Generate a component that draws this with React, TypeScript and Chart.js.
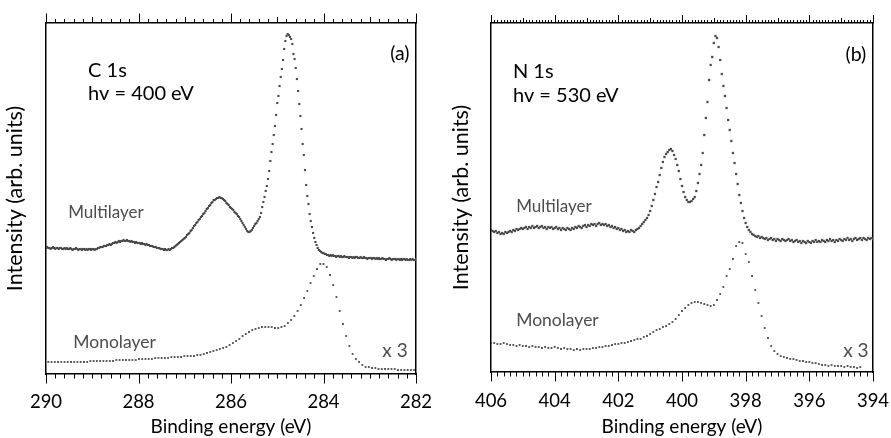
import { useEffect, useRef } from "react";
import { Chart, registerables } from "chart.js";

Chart.register(...registerables);

const FONT = "Lato, 'DejaVu Sans', sans-serif";

// ---- C 1s spectra (panel a) ----
const c1sMultilayerStart = 290;
const c1sMultilayerStep = 0.025;
const c1sMultilayer = [
  126, 127, 126, 126, 125, 126, 127, 126, 125, 126,
  126, 125, 126, 126, 125, 125, 126, 125, 126, 125,
  125, 126, 125, 124, 125, 125, 126, 125, 124, 125,
  125, 124, 125, 125, 124, 125, 124, 125, 125, 124,
  125,
  125, 124, 125, 125, 126, 126, 127, 127, 127, 128,
  128, 128, 129, 129, 130, 129, 130, 131, 131, 132,
  131, 132, 133, 132, 133, 133, 134, 133, 133, 134,
  133, 133, 132, 133, 132, 132, 131, 132, 131, 131,
  131, 130, 131, 130, 130, 129, 130, 129, 129, 128,
  128, 128, 127, 127, 127, 126, 126, 126, 125, 125,
  125, 124, 125, 124, 124, 125, 124, 125, 126, 126,
  127, 128, 129, 130, 131, 132, 133, 134,
  135, 136, 137, 139, 140, 141, 143, 144, 146, 148,
  149, 151, 152, 154, 155, 157, 158, 160, 161, 163,
  165, 166, 168, 169, 171, 172, 174, 174, 175, 176,
  176, 177, 176, 176, 175, 174, 173, 171, 170, 169,
  167, 166, 165, 164, 162, 161, 160, 158, 157, 155,
  153, 151, 149, 147, 145, 143, 142, 142, 143, 144,
  146, 148, 150, 151, 153, 155,
  157, 161, 167, 172, 177, 183, 188, 195, 203, 213,
  222, 230, 239, 248, 259, 271, 278, 288, 297, 305,
  314, 325, 333, 338, 340, 339, 337, 335, 330, 320,
  315, 306, 295, 283, 270, 258, 245, 230, 219, 204,
  189, 178, 170, 160, 153, 147, 141, 136, 132, 129,
  126, 124, 123, 122, 121, 121,
  120, 120, 119, 119, 118, 119, 118, 119, 118, 118,
  117, 118, 118, 117, 118, 117, 117, 118, 117, 117,
  117, 116, 117, 117, 116, 117, 116, 117, 117, 116,
  116, 117, 116, 116, 117, 116, 116, 115, 116, 116,
  116, 115, 116, 116, 115, 116, 115, 116, 115, 115,
  116, 115, 115, 114, 115, 115, 116, 115, 114, 115,
  115, 115, 114, 115, 115, 114, 115, 114, 115, 115,
  114, 115, 114, 114, 115, 114, 115, 114, 114, 115,
];

const c1sMonolayerStart = 289.95;
const c1sMonolayerStep = 0.07;
const c1sMonolayer = [
  12, 12, 12, 12, 12, 12, 12, 12, 12, 12, 12, 12, 12, 13, 13, 13,
  13, 13, 13, 13, 13, 14, 14, 14, 14, 14, 14, 14, 15, 15,
  15, 15, 15, 16, 16, 16, 16, 16, 17, 17,
  17, 17, 18, 18, 18, 18, 19, 19,
  20, 21, 22, 23, 24,
  25, 26, 27, 29, 31,
  33, 35, 38, 40,
  42, 44, 45,
  46, 47, 47, 47,
  47, 46, 46, 47,
  48, 51, 54, 58, 63, 69, 76, 83, 91, 98, 105, 110, 110, 107,
  99, 89, 77, 63, 50, 38, 28, 20, 15, 12, 9, 7, 7,
  6, 6, 5, 5, 5, 5, 5, 5, 4, 4, 4, 4, 4, 4,
];

// ---- N 1s spectra (panel b) ----
const n1sMultilayerStart = 406;
const n1sMultilayerStep = 0.05;
const n1sMultilayer = [
  142, 141, 140, 141, 139, 140, 138, 139, 138, 140,
  139, 140, 141, 140, 142, 141, 143, 142, 143, 144,
  143, 144, 145, 143, 145, 144, 146, 144, 145, 146,
  144, 145, 146, 144, 145, 143, 145, 144, 145, 143,
  144, 145, 143, 144, 142, 144, 143, 142, 144, 143,
  142, 144, 143, 145, 144, 146, 145, 144, 146, 147,
  145, 147, 146, 148, 147, 148, 146, 148, 149, 147,
  148, 147, 148, 146, 147, 145, 146, 144, 145, 143,
  144, 142, 143, 141, 142, 140, 141, 140, 142, 141,
  140, 142, 143, 144, 146, 148, 150, 152, 154, 157,
  161, 166, 172, 178, 185, 190, 197, 204, 210, 215,
  218, 220, 222, 223, 221, 217, 213, 207, 201, 193,
  186, 180, 175, 172, 170, 170, 171, 173, 175, 181,
  189, 198, 207, 219, 237, 254, 270, 292, 307, 315,
  329, 336, 334, 325, 312, 298, 286, 276, 264, 252,
  242, 231, 219, 209, 198, 188, 177, 169, 161, 154,
  149, 145, 142, 140, 138, 137, 136, 135, 136, 134,
  135, 134, 133, 134, 132, 133, 134, 132, 133, 131,
  133, 132, 131, 133, 132, 131, 132, 133, 131, 132,
  130, 131, 132, 130, 131, 129, 131, 130, 129, 131,
  130, 129, 131, 130, 132, 130, 131, 130, 132, 131,
  130, 132, 131, 133, 131, 132, 130, 132, 131, 133,
  132, 131, 133, 132, 134, 132, 133, 131, 133, 134,
  132, 133, 134, 132, 134, 133, 132, 134, 133, 134,
  133,
];

const n1sMonolayerStart = 406;
const n1sMonolayerStep = 0.1;
const n1sMonolayer = [
  29, 29, 28, 28, 29, 28, 27, 27, 26, 27,
  26, 26, 25, 26, 25, 25, 24, 25, 24, 24,
  25, 24, 23, 24, 23, 23, 22, 23, 22, 23,
  23, 23, 24, 24, 25, 25, 26, 26, 27, 28,
  28, 29, 29, 30, 31, 32, 33, 33, 35, 36,
  38, 40, 42, 43, 45, 46, 48, 50, 53, 57,
  61, 64, 67, 69, 70, 70, 69, 68, 67, 66,
  67, 72, 78, 85, 96, 103, 113, 126, 130, 129,
  118, 110, 96, 82, 69, 56, 44, 34, 26, 21,
  18, 16, 15, 14, 13, 13, 12, 11, 11, 10,
  10, 9, 9, 8, 7, 7, 6, 7, 6, 6,
  6, 5, 6, 5, 5, 4, 5,
];

const toPoints = (values: number[], start: number, step: number) =>
  values.map((y, i) => ({ x: +(start - i * step).toFixed(4), y }));

type TickSpec = {
  minor: number;
  mid?: number;
  major: number;
  minorLen: number;
  midLen?: number;
  majorLen: number;
};

type Note = {
  text: string;
  x: number;
  y: number;
  align: CanvasTextAlign;
  color: string;
  size: number;
};

const isMultiple = (v: number, m: number) =>
  Math.abs(v / m - Math.round(v / m)) < 1e-6;

// Minor / major tick marks on the bottom and top energy axes.
function tickMarksPlugin(bottom: TickSpec, top: TickSpec) {
  return {
    id: "tickMarks",
    afterDraw(chart: any) {
      const ctx: CanvasRenderingContext2D = chart.ctx;
      ctx.save();
      ctx.strokeStyle = "#000";
      ctx.lineWidth = 1;
      const sides: [string, TickSpec, number][] = [
        ["x", bottom, 1],
        ["x2", top, -1],
      ];
      for (const [id, spec, dir] of sides) {
        const scale = chart.scales[id];
        const edge = dir > 0 ? scale.top : scale.bottom;
        const n = Math.round((scale.max - scale.min) / spec.minor);
        ctx.beginPath();
        for (let k = 0; k <= n; k++) {
          const v = scale.min + k * spec.minor;
          let len = spec.minorLen;
          if (isMultiple(v, spec.major)) len = spec.majorLen;
          else if (spec.mid && isMultiple(v, spec.mid)) len = spec.midLen ?? spec.minorLen;
          const px = Math.round(scale.getPixelForValue(v)) + 0.5;
          ctx.moveTo(px, edge);
          ctx.lineTo(px, edge + dir * len);
        }
        ctx.stroke();
      }
      ctx.restore();
    },
  };
}

// Text labels placed in data coordinates (energy, intensity).
function notesPlugin(notes: Note[]) {
  return {
    id: "notes",
    afterDatasetsDraw(chart: any) {
      const ctx: CanvasRenderingContext2D = chart.ctx;
      const xs = chart.scales.x;
      const ys = chart.scales.y;
      for (const n of notes) {
        ctx.save();
        ctx.font = `${n.size}px ${FONT}`;
        ctx.fillStyle = n.color;
        ctx.textAlign = n.align;
        ctx.textBaseline = "alphabetic";
        ctx.fillText(n.text, xs.getPixelForValue(n.x), ys.getPixelForValue(n.y));
        ctx.restore();
      }
    },
  };
}

type PanelSpec = {
  width: number;
  xMin: number;
  xMax: number;
  yMax: number;
  leftWidth: number;
  rightWidth: number;
  topHeight: number;
  bottomHeight: number;
  yTitlePad: number;
  labelGap: number;
  multilayer: { x: number; y: number }[];
  monolayer: { x: number; y: number }[];
  multiRadius: number;
  monoRadius: number;
  bottomTicks: TickSpec;
  topTicks: TickSpec;
  notes: Note[];
};

const border = { display: true, color: "#000", width: 1.5 };
const noGrid = { display: false, drawTicks: false };

function buildConfig(p: PanelSpec): any {
  return {
    type: "scatter",
    data: {
      datasets: [
        {
          label: "Multilayer",
          data: p.multilayer,
          showLine: false,
          pointStyle: "rect",
          pointRadius: p.multiRadius,
          pointBorderWidth: 0,
          backgroundColor: "#4a4a4a",
          borderColor: "#4a4a4a",
        },
        {
          label: "Monolayer",
          data: p.monolayer,
          showLine: false,
          pointStyle: "rect",
          pointRadius: p.monoRadius,
          pointBorderWidth: 0,
          backgroundColor: "#4d4d4d",
          borderColor: "#4d4d4d",
        },
      ],
    },
    options: {
      animation: false,
      responsive: false,
      devicePixelRatio: 1,
      layout: { padding: 0 },
      events: [],
      plugins: {
        legend: { display: false },
        tooltip: { enabled: false },
        title: { display: false },
      },
      scales: {
        x: {
          type: "linear",
          position: "bottom",
          min: p.xMin,
          max: p.xMax,
          reverse: true,
          grid: { display: false, drawTicks: true, tickLength: p.labelGap },
          border,
          ticks: {
            stepSize: 2,
            autoSkip: false,
            maxRotation: 0,
            padding: 0,
            color: "#000",
            font: { family: FONT, size: 18.5 },
            callback: (v: number) => String(v),
          },
          title: {
            display: true,
            text: "Binding energy (eV)",
            color: "#000",
            font: { family: FONT, size: 19 },
            padding: { top: 0, bottom: 0 },
          },
          afterFit: (s: any) => {
            s.height = p.bottomHeight;
            s.paddingLeft = 0;
            s.paddingRight = 0;
          },
        },
        x2: {
          type: "linear",
          position: "top",
          min: p.xMin,
          max: p.xMax,
          reverse: true,
          grid: noGrid,
          border,
          ticks: { display: false },
          afterFit: (s: any) => {
            s.height = p.topHeight;
            s.paddingLeft = 0;
            s.paddingRight = 0;
          },
        },
        y: {
          type: "linear",
          position: "left",
          min: 0,
          max: p.yMax,
          grid: noGrid,
          border,
          ticks: { display: false },
          title: {
            display: true,
            text: "Intensity (arb. units)",
            color: "#000",
            font: { family: FONT, size: 21.5 },
            padding: { top: p.yTitlePad, bottom: 0 },
          },
          afterFit: (s: any) => {
            s.width = p.leftWidth;
          },
        },
        y2: {
          type: "linear",
          position: "right",
          min: 0,
          max: p.yMax,
          grid: noGrid,
          border,
          ticks: { display: false },
          afterFit: (s: any) => {
            s.width = p.rightWidth;
          },
        },
      },
    },
    plugins: [tickMarksPlugin(p.bottomTicks, p.topTicks), notesPlugin(p.notes)],
  };
}

const GREY = "#4d4d4d";

const panelA: PanelSpec = {
  width: 440,
  xMin: 282,
  xMax: 290,
  yMax: 351,
  leftWidth: 46,
  rightWidth: 24,
  topHeight: 23,
  bottomHeight: 64,
  yTitlePad: 2.6,
  labelGap: 16.5,
  multilayer: toPoints(c1sMultilayer, c1sMultilayerStart, c1sMultilayerStep),
  monolayer: toPoints(c1sMonolayer, c1sMonolayerStart, c1sMonolayerStep),
  multiRadius: 1.5,
  monoRadius: 1.3,
  bottomTicks: { minor: 0.2, major: 2, minorLen: 4.5, majorLen: 9.5 },
  topTicks: { minor: 0.2, mid: 1, major: 2, minorLen: 4, midLen: 6, majorLen: 9.5 },
  notes: [
    { text: "C 1s", x: 289.09, y: 297, align: "left", color: "#000", size: 20 },
    { text: "hv = 400 eV", x: 289.09, y: 274, align: "left", color: "#000", size: 20 },
    { text: "(a)", x: 282.14, y: 314, align: "right", color: "#000", size: 19.5 },
    { text: "Multilayer", x: 289.52, y: 156, align: "left", color: GREY, size: 17 },
    { text: "Monolayer", x: 289.41, y: 26.5, align: "left", color: GREY, size: 17.5 },
    { text: "x 3", x: 282.18, y: 17, align: "right", color: GREY, size: 19 },
  ],
};

const panelB: PanelSpec = {
  width: 451,
  xMin: 394,
  xMax: 406,
  yMax: 349,
  leftWidth: 51,
  rightWidth: 18,
  topHeight: 23,
  bottomHeight: 66,
  yTitlePad: 8.1,
  labelGap: 17.5,
  multilayer: toPoints(n1sMultilayer, n1sMultilayerStart, n1sMultilayerStep),
  monolayer: toPoints(n1sMonolayer, n1sMonolayerStart, n1sMonolayerStep),
  multiRadius: 1.6,
  monoRadius: 1.3,
  bottomTicks: { minor: 0.2, major: 2, minorLen: 4.5, majorLen: 9.5 },
  topTicks: { minor: 0.1, mid: 1, major: 2, minorLen: 3, midLen: 5, majorLen: 8 },
  notes: [
    { text: "N 1s", x: 405.31, y: 294, align: "left", color: "#000", size: 20 },
    { text: "hv = 530 eV", x: 405.31, y: 270, align: "left", color: "#000", size: 20 },
    { text: "(b)", x: 394.21, y: 311, align: "right", color: "#000", size: 19.5 },
    { text: "Multilayer", x: 405.21, y: 160, align: "left", color: GREY, size: 17 },
    { text: "Monolayer", x: 405.21, y: 46, align: "left", color: GREY, size: 17.5 },
    { text: "x 3", x: 394.14, y: 15, align: "right", color: GREY, size: 19 },
  ],
};

function Panel({ spec, left }: { spec: PanelSpec; left: number }) {
  const ref = useRef<HTMLCanvasElement | null>(null);
  useEffect(() => {
    if (!ref.current) return;
    const chart = new Chart(ref.current, buildConfig(spec));
    return () => chart.destroy();
  }, [spec]);
  return (
    <canvas
      ref={ref}
      width={spec.width}
      height={438}
      style={{ position: "absolute", left, top: 0, width: spec.width, height: 438 }}
    />
  );
}

export default function App() {
  return (
    <div
      style={{
        position: "fixed",
        left: 0,
        top: 0,
        width: 891,
        height: 438,
        background: "#fff",
        overflow: "hidden",
      }}
    >
      <Panel spec={panelA} left={0} />
      <Panel spec={panelB} left={440} />
    </div>
  );
}
